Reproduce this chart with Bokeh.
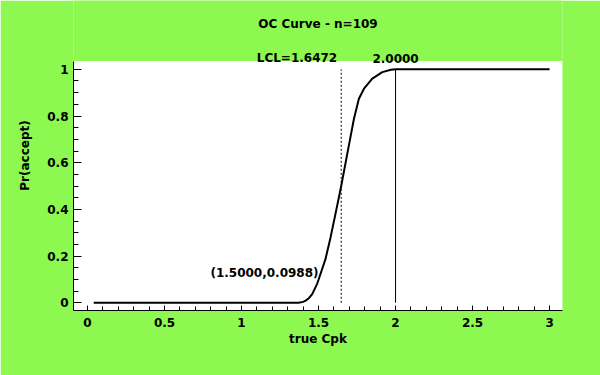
from bokeh.plotting import figure
from bokeh.models import Label, Range1d, SingleIntervalTicker
from bokeh.core.properties import value
from bokeh.embed import file_html
from bokeh.resources import INLINE

# ---- data ----
cpk = [0.04, 1.37, 1.40, 1.416, 1.44, 1.459, 1.49, 1.50, 1.545, 1.578, 1.61,
       1.6472, 1.697, 1.73, 1.762, 1.795, 1.849, 1.914, 1.97, 2.0, 3.0]
pr_accept = [0.0, 0.0, 0.004, 0.009, 0.022, 0.037, 0.080, 0.0988, 0.187, 0.280, 0.381,
             0.500, 0.674, 0.788, 0.874, 0.917, 0.960, 0.988, 0.998, 1.0, 1.0]
lcl = 1.6472
target = 2.0
point_x = 1.5
point_y = 0.0988
sample_n = 109

GREEN = "#8CF850"
FONT = "DejaVu Sans"

W, H = 600, 375
LEFT, RIGHT, BOTTOM = 73, 38, 65
FRAME_H = H - BOTTOM          # frame reaches the top of the canvas
PX = 1 / 233.5                # data units per pixel on y

x_start, x_end = -0.091, 3.084
y_start = -7.7 * PX
y_end = y_start + FRAME_H * PX
plot_top = 1 + 8.3 * PX       # top of the white plotting area

p = figure(width=W, height=H, output_backend="svg", toolbar_location=None, title=None,
           x_range=Range1d(x_start, x_end), y_range=Range1d(y_start, y_end),
           min_border_left=LEFT, min_border_right=RIGHT, min_border_top=0,
           min_border_bottom=BOTTOM)
p.border_fill_color = GREEN
p.background_fill_color = GREEN
p.outline_line_color = None
p.grid.visible = False

# white plotting area
p.quad(left=[x_start], right=[x_end], bottom=[y_start], top=[plot_top],
       fill_color="white", line_color=None)

for ax in (p.xaxis[0], p.yaxis[0]):
    ax.axis_line_color = "black"
    ax.major_tick_line_color = "black"
    ax.minor_tick_line_color = "black"
    ax.major_tick_out = 0
    ax.minor_tick_out = 0
    ax.major_label_text_font = FONT
    ax.major_label_text_font_style = "bold"
    ax.major_label_text_font_size = "12px"
    ax.major_label_text_color = "black"
    ax.axis_label_text_font = FONT
    ax.axis_label_text_font_style = "bold"
    ax.axis_label_text_font_size = "12px"
    ax.axis_label_text_color = "black"

p.yaxis.bounds = (y_start, plot_top)
p.xaxis.ticker = SingleIntervalTicker(interval=0.5, num_minor_ticks=5)
p.yaxis.ticker = SingleIntervalTicker(interval=0.2, num_minor_ticks=4)
p.xaxis.major_tick_in = 5
p.xaxis.minor_tick_in = 4
p.yaxis.major_tick_in = 8
p.yaxis.minor_tick_in = 5
p.xaxis.major_label_standoff = 7
p.yaxis.major_label_standoff = 5
p.xaxis.axis_label = "true Cpk"
p.yaxis.axis_label = "Pr(accept)"
p.xaxis.axis_label_standoff = 2
p.yaxis.axis_label_standoff = 12

# vertical reference lines
p.segment(x0=[lcl], y0=[0], x1=[lcl], y1=[1], line_color="black", line_width=1, line_dash="2 2")
p.segment(x0=[target], y0=[0], x1=[target], y1=[1], line_color="black", line_width=1)

# OC curve
p.line(cpk, pr_accept, line_color="black", line_width=2)

p.add_layout(Label(x=point_x, y=point_y, text=f"({point_x:.4f},{point_y:.4f})",
                   text_align="right", text_baseline="bottom",
                   text_font=FONT, text_font_style="bold", text_font_size="12px",
                   text_color="black"))

# title and reference-line labels above the plotting area
x_mid = (x_start + x_end) / 2
common = dict(text_baseline="alphabetic", text_font=value(FONT), text_font_style="bold",
              text_font_size="12px", text_color="black")
p.text(x=[x_mid], y=[plot_top + 37.5 * PX], text=[f"OC Curve - n={sample_n}"],
       text_align="center", **common)
p.text(x=[lcl], y=[plot_top + 3 * PX], text=[f"LCL={lcl:.4f}"], x_offset=-4,
       text_align="right", **common)
p.text(x=[target], y=[plot_top + 3 * PX], text=[f"{target:.4f}"],
       text_align="center", **common)

open("out.html", "w").write(file_html(p, INLINE))
